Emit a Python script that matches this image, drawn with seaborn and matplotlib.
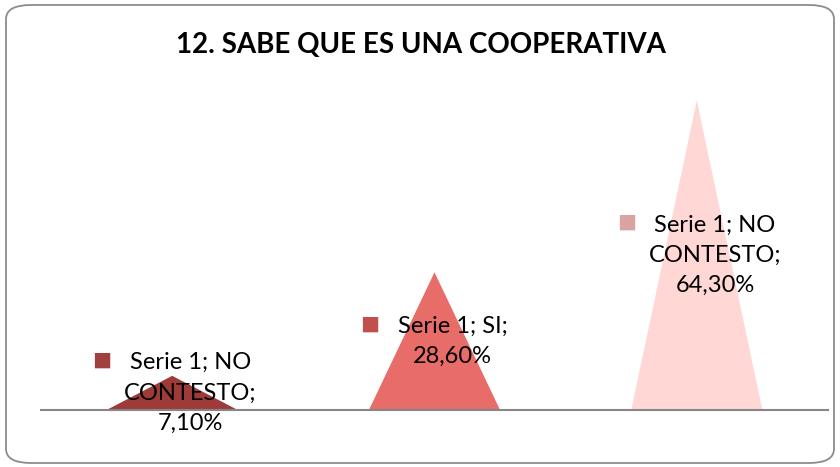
import matplotlib
matplotlib.use("Agg")
import matplotlib.pyplot as plt
import seaborn as sns
import pandas as pd
from matplotlib.patches import Polygon, FancyBboxPatch

categories = ["NO CONTESTO (1)", "SI", "NO CONTESTO (2)"]
values = [0.071, 0.286, 0.643]
label_texts = ["Serie 1; NO\nCONTESTO;\n7,10%", "Serie 1; SI;\n28,60%", "Serie 1; NO\nCONTESTO;\n64,30%"]
fill_colors = ["#9E3B38", "#E86C67", "#FFD7D5"]
key_colors = ["#A0413E", "#C0504D", "#D9A3A1"]
title = "12. SABE QUE ES UNA COOPERATIVA"

sns.set_theme(style="white")
plt.rcParams["font.family"] = ["Lato", "DejaVu Sans"]

df = pd.DataFrame({"cat": categories, "val": values})

fig = plt.figure(figsize=(8.4, 4.67), dpi=100)
ax = fig.add_axes([41/840, 1 - 410/467, (828 - 41)/840, (410 - 73)/467])
sns.barplot(data=df, x="cat", y="val", ax=ax, width=0.5, color="white", errorbar=None)

for patch, c in zip(ax.patches, fill_colors):
    x0 = patch.get_x(); w = patch.get_width(); h = patch.get_height()
    tri = Polygon([[x0, 0], [x0 + w / 2, h], [x0 + w, 0]], closed=True,
                  facecolor=c, edgecolor="none", zorder=2)
    ax.add_patch(tri)
    patch.set_visible(False)

ax.set_ylim(0, 0.7)
ax.set_xlim(-0.5, 2.5)
ax.set_xticks([]); ax.set_yticks([])
ax.set_xlabel(""); ax.set_ylabel("")
for s in ["top", "left", "right"]:
    ax.spines[s].set_visible(False)
ax.spines["bottom"].set_color("#868686")
ax.spines["bottom"].set_linewidth(1.5)
ax.spines["bottom"].set_zorder(3)

fig.canvas.draw()
renderer = fig.canvas.get_renderer()
fs = 17
for i, (v, txt, kc) in enumerate(zip(values, label_texts, key_colors)):
    ax.annotate(txt, xy=(i, v / 2), xytext=(13, 0), textcoords="offset points",
                ha="center", va="center", fontsize=fs, color="black",
                linespacing=1.55, zorder=5)
    first = txt.split("\n")[0]
    nlines = len(txt.split("\n"))
    tmp = ax.text(0, 0, first, fontsize=fs)
    wpx = tmp.get_window_extent(renderer).width
    tmp.remove()
    line_h = 32
    dx_px = 13 / 0.72 - wpx / 2 - 28
    dy_px = (nlines - 1) / 2 * line_h + 1
    ax.annotate("■", xy=(i, v / 2), xytext=(dx_px * 0.72, dy_px * 0.72),
                textcoords="offset points", ha="center", va="center",
                fontsize=14.5, color=kc, family="DejaVu Sans", zorder=5)

fig.text(421/840, 1 - 45/467, title, ha="center", va="center",
         fontsize=20, fontweight="bold", color="black")

border = FancyBboxPatch((6/840, 4/467), 828/840, 458/467,
                        boxstyle="round,pad=0,rounding_size=0.03",
                        transform=fig.transFigure, facecolor="none",
                        edgecolor="#8C8C8C", linewidth=1.3, zorder=10)
fig.patches.append(border)

fig.savefig("out.png", dpi=100)
